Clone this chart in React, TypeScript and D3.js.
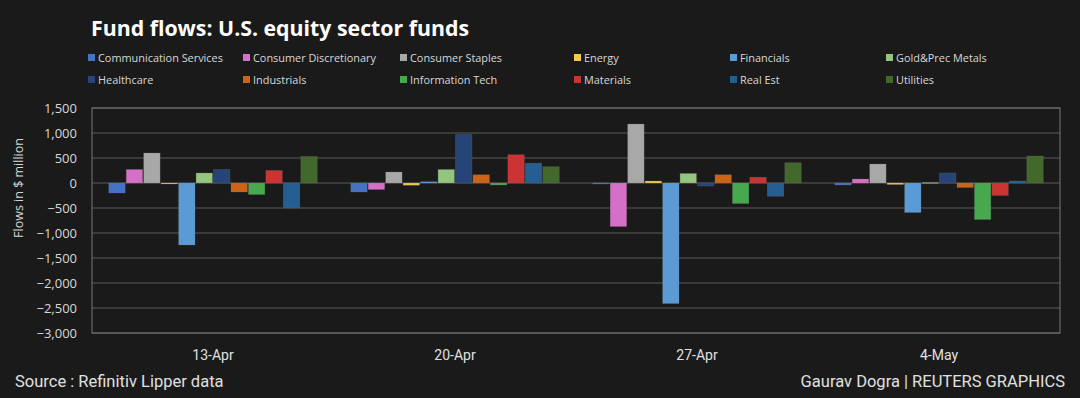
import React from 'react'
import * as d3 from 'd3'

const weeks = ['13-Apr', '20-Apr', '27-Apr', '4-May']
const sectors = [
  'Communication Services', 'Consumer Discretionary', 'Consumer Staples', 'Energy',
  'Financials', 'Gold&Prec Metals', 'Healthcare', 'Industrials',
  'Information Tech', 'Materials', 'Real Est', 'Utilities',
]
const colors = [
  '#4472c4', '#d56fc8', '#a8a8a8', '#f2c94c',
  '#5b9bd5', '#94c47d', '#264478', '#cc6416',
  '#47a94d', '#cc3333', '#255e91', '#43682b',
]
// flows in $ million, one array per week, in sector order
const wk13Apr = [-200, 270, 600, -20, -1240, 200, 270, -180, -230, 250, -500, 530]
const wk20Apr = [-180, -130, 220, -45, 25, 270, 970, 165, -40, 565, 395, 325]
const wk27Apr = [-20, -870, 1180, 40, -2410, 190, -60, 165, -410, 115, -265, 405]
const wk4May = [-40, 80, 380, -30, -590, 10, 200, -90, -730, -250, 40, 540]
const yTicks = [1500, 1000, 500, 0, -500, -1000, -1500, -2000, -2500, -3000]

const W = 1080
const H = 398
const left = 92
const right = 1060
const top = 108
const bottom = 333
const font = 'Open Sans, sans-serif'
const narrow = 'Roboto, sans-serif'

export default function App() {
  const values = [wk13Apr, wk20Apr, wk27Apr, wk4May]
  const x0 = d3.scaleBand().domain(weeks).range([left, right]).paddingInner(0.13).paddingOuter(0.065)
  const x1 = d3.scaleBand().domain(sectors).range([0, x0.bandwidth()]).padding(0.06)
  const y = d3.scaleLinear().domain([-3000, 1500]).range([bottom, top])
  const fmt = d3.format(',')

  return (
    <svg width={W} height={H} style={{display: 'block', position: 'absolute', left: 0, top: 0, background: '#1a1a1b'}}>
      <rect width={W} height={H} fill="#1a1a1b" />
      <text x={91} y={36} fill="#fff" fontFamily={font} fontWeight="bold" fontSize={21.3}>
        Fund flows: U.S. equity sector funds
      </text>
      {sectors.map((s, i) => {
        const col = i % 6
        const row = Math.floor(i / 6)
        const lx = [88, 243, 400, 574, 730, 886][col]
        const ly = 58 + row * 22
        return (
          <g key={s}>
            <rect x={lx} y={ly - 4} width={7} height={7} fill={colors[i]} />
            <text x={lx + 10} y={ly} dy="0.35em" fill="#d8d8d8" fontFamily={font} fontSize={10.9}>{s}</text>
          </g>
        )
      })}
      {yTicks.map((t) => (
        <g key={t}>
          <line x1={left} x2={right} y1={y(t)} y2={y(t)} stroke="#5a5a5a" strokeWidth={1} />
          <text x={77} y={y(t)} dy="0.35em" textAnchor="end" fill="#d8d8d8" fontFamily={font} fontSize={13}>
            {fmt(t)}
          </text>
        </g>
      ))}
      <rect x={left} y={top} width={right - left} height={bottom - top} fill="none" stroke="#777" strokeWidth={1} />
      <text transform={`translate(23,188) rotate(-90)`} textAnchor="middle" fill="#d8d8d8" fontFamily={font} fontSize={12.5}>
        Flows in $ million
      </text>
      {weeks.map((w, wi) => (
        <g key={w} transform={`translate(${x0(w)},0)`}>
          {sectors.map((s, si) => {
            const v = values[wi][si]
            return (
              <rect key={s} x={x1(s)} width={x1.bandwidth()} y={y(Math.max(0, v))}
                height={Math.max(1, Math.abs(y(v) - y(0)))} fill={colors[si]} stroke="#777" strokeOpacity={0.35} strokeWidth={0.7} />
            )
          })}
          <text x={x0.bandwidth() / 2} y={355} dy="0.35em" textAnchor="middle" fill="#e0e0e0" fontFamily={narrow} fontSize={14}>
            {w}
          </text>
        </g>
      ))}
      <text x={15} y={381} dy="0.35em" fill="#e0e0e0" fontFamily={narrow} fontSize={16.5}>Source : Refinitiv Lipper data</text>
      <text x={1065} y={381} dy="0.35em" textAnchor="end" fill="#e0e0e0" fontFamily={narrow} fontSize={16.5}>Gaurav Dogra | REUTERS GRAPHICS</text>
    </svg>
  )
}
